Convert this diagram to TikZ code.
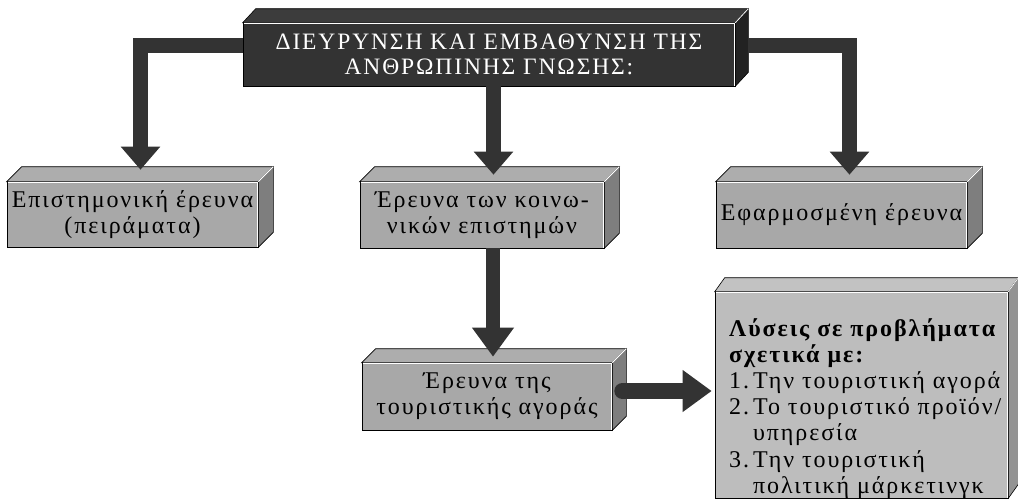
\documentclass[tikz,border=0pt]{standalone}
\usepackage{fontspec}
\setmainfont{Liberation Serif}[LetterSpace=8]
\usetikzlibrary{arrows.meta}
\definecolor{darkbox}{HTML}{333333}
\definecolor{darktop}{HTML}{3C3C3C}
\definecolor{darkside}{HTML}{222222}
\definecolor{grayfront}{HTML}{A8A8A8}
\definecolor{graytop}{HTML}{ADADAD}
\definecolor{grayside}{HTML}{7E7E7E}
\definecolor{lightfront}{HTML}{BDBDBD}
\definecolor{lighttop}{HTML}{C2C2C2}
\definecolor{lightside}{HTML}{939393}
\definecolor{arrowcol}{HTML}{333333}
\newcommand\cubefaces[5]{%
  \fill[#4,draw=black,line width=0.6pt] (#1.north west) -- ([xshift=#2pt,yshift=#3pt]#1.north west) -- ([xshift=#2pt,yshift=#3pt]#1.north east) -- (#1.north east) -- cycle;
  \fill[#5,draw=black,line width=0.6pt] (#1.north east) -- ([xshift=#2pt,yshift=#3pt]#1.north east) -- ([xshift=#2pt,yshift=#3pt]#1.south east) -- (#1.south east) -- cycle;
  \draw[white,line width=0.9pt] ([xshift=0.8pt,yshift=-0.8pt]#1.north west) -- ([xshift=-0.8pt,yshift=-0.8pt]#1.north east) -- ([xshift=-0.8pt,yshift=0.8pt]#1.south east);
  \draw[white,line width=0.8pt] (#1.north east) -- ([xshift=#2pt,yshift=#3pt]#1.north east);
}
\tikzset{
  front/.style={draw=black,line width=0.6pt,inner sep=0pt,align=center,
    font=\fontsize{24}{26}\selectfont},
  grayface/.style={front,fill=grayfront},
  blockarrow/.style={draw=arrowcol,line width=15pt,line join=miter,
    -{Triangle[length=23pt,width=38pt]}},
}
\begin{document}
\begin{tikzpicture}[x=1pt,y=-1pt]
\useasboundingbox (0,0) rectangle (1018,499);
\fill[white] (0,0) rectangle (1018,499);

% top box
\node[front,fill=darkbox,text=white,minimum width=492pt,minimum height=63pt,font=\fontsize{23.5}{25}\selectfont] (top) at (489,54.5)
  {ΔΙΕΥΡΥΝΣΗ ΚΑΙ ΕΜΒΑΘΥΝΣΗ ΤΗΣ\\ΑΝΘΡΩΠΙΝΗΣ ΓΝΩΣΗΣ:};
\cubefaces{top}{13}{14}{darktop}{darkside}

% level 2 boxes
\node[grayface,minimum width=251pt,minimum height=65pt] (b1) at (132.5,214.5)
  {Επιστημονική έρευνα\\(πειράματα)};
\cubefaces{b1}{15}{15}{graytop}{grayside}

\node[grayface,minimum width=244pt,minimum height=66pt] (b2) at (482,215)
  {Έρευνα των κοινω-\\νικών επιστημών};
\cubefaces{b2}{15}{15}{graytop}{grayside}

\node[grayface,minimum width=251pt,minimum height=66pt] (b3) at (841.5,215)
  {Εφαρμοσμένη έρευνα};
\cubefaces{b3}{15}{15}{graytop}{grayside}

% level 3 box
\node[grayface,minimum width=250pt,minimum height=67pt] (b4) at (487,396.5)
  {Έρευνα της\\τουριστικής αγοράς};
\cubefaces{b4}{14}{14}{graytop}{grayside}

% big box
\node[front,fill=lightfront,minimum width=293pt,minimum height=206pt] (b5) at (861.5,395) {};
\cubefaces{b5}{10}{14}{lighttop}{lightside}
\node[anchor=north west,inner sep=0pt,align=left,font=\fontsize{24}{26.2}\selectfont] (b5text) at (729,318)
  {\textbf{Λύσεις σε προβλήματα}\\
   \textbf{σχετικά με:}\\
   1.\,Την τουριστική αγορά\\
   2.\,Το τουριστικό προϊόν/\\
   \phantom{2.\,}υπηρεσία\\
   3.\,Την τουριστική\\
   \phantom{3.\,}πολιτική μάρκετινγκ};

% arrows
\draw[blockarrow] ([yshift=9.5pt]top.west) -| ([xshift=8pt,yshift=12pt]b1.north);
\draw[blockarrow] ([xshift=13pt,yshift=9.5pt]top.east) -| ([xshift=8pt,yshift=7pt]b3.north);
\draw[blockarrow] ([xshift=4.5pt]top.south) -- ([xshift=11.5pt,yshift=7pt]b2.north);
\draw[blockarrow,line width=14pt,-{Triangle[length=29pt,width=40pt]}] ([xshift=11pt]b2.south) -- ([xshift=6pt,yshift=6pt]b4.north);
\draw[blockarrow,line width=16pt,line cap=round,-{Triangle[length=29pt,width=40pt]}] ([xshift=10pt,yshift=5.5pt]b4.east) -- ([xshift=-3pt,yshift=4pt]b5.west);
\end{tikzpicture}
\end{document}
